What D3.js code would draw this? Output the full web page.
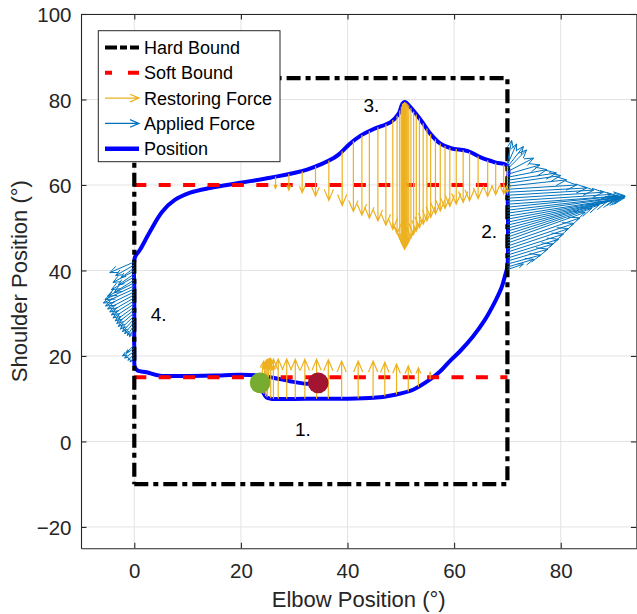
<!DOCTYPE html>
<html><head><meta charset="utf-8">
<script src="https://cdn.jsdelivr.net/npm/d3@7"></script>
<style>
body{margin:0;background:#fff}
svg{display:block}
text{font-family:"Liberation Sans",Arial,Helvetica,sans-serif}
</style>
</head><body>
<svg id="c" width="637" height="614"></svg>
<script>
// ---------- data ----------
const xTicks = [0, 20, 40, 60, 80];
const yTicks = [-20, 0, 20, 40, 60, 80, 100];
const xLabel = "Elbow Position (°)";
const yLabel = "Shoulder Position (°)";
const legendLabels = ["Hard Bound", "Soft Bound", "Restoring Force", "Applied Force", "Position"];

const hardBoundX = [0, 70, 70, 0, 0];
const hardBoundY = [-10, -10, 85, 85, -10];
const softBoundX = [0, 70];
const softBoundLevels = [60, 15];

const posX = [23.6,24.2,24.8,25.6,32.3,38.6,44.9,49.2,52.3,55.5,57.4,59.2,61.1,63.5,65.8,67.8,68.9,69.6,70.0,70.1,70.1,70.0,70.0,
  67.7,65.1,62.6,59.4,57.5,55.6,53.8,51.5,50.8,50.3,49.6,48.1,44.9,42.4,40.4,38.6,37.4,32.4,25.5,19.8,14.2,10.5,7.6,5.2,2.9,1.1,0.1,
  0,0,0,0.1,0.6,2.3,4.8,8.6,14.8,19.9,23.6,26.1,29.2,32.3,34.5];
const posY = [13.7,11.4,10.3,10.0,10.0,10.0,10.2,11.0,12.1,14.5,16.4,18.8,21.1,24.5,28.5,33.0,36.0,39.0,41.0,47,54,60,64.5,
  65.3,66.4,67.9,68.6,69.6,71.9,75.1,78.6,79.4,79.0,76.7,74.7,73.1,71.5,69.6,67.4,66.3,63.6,61.7,60.5,59.3,58.2,56.5,53.7,49.0,44.9,43.0,
  36,28,20,17.4,16.6,16.2,15.4,15.3,15.4,15.6,15.4,14.9,14.1,13.5,13.7];

const startPoint = [23.6, 13.7];
const endPoint = [34.5, 13.7];

// restoring force (base x, base y, u, v)
const resX = [26.5,29.0,31.5,34.0,36.5,39.0,41.1,42.7,44.1,45.7,47.2,48.5,49.3,49.8,50.1,50.3,50.5,50.7,50.9,51.1,51.3,51.5,51.9,52.4,52.9,53.5,54.2,54.9,55.6,56.5,57.4,58.3,59.2,60.4,61.7,62.9,64.5,66.3,67.8,69.3,70.0,
  23.7,23.9,24.1,24.3,24.6,24.9,25.6,26.1,27.0,28.6,30.2,32.0,34.2,36.4,38.9,42.0,44.8,47.0,49.2,51.4,53.3,55.5];
const resY = [62.0,62.6,63.2,64.4,65.7,67.9,70.3,71.7,72.6,73.5,74.2,75.2,76.2,77.4,78.3,79.0,79.2,79.4,79.3,79.1,78.9,78.6,78.0,77.2,76.5,75.6,74.4,73.2,71.9,70.7,69.7,69.1,68.7,68.4,68.1,67.7,66.7,65.8,65.2,64.8,64.5,
  13.5,12.6,11.8,11.1,10.6,10.3,10.1,10.0,10.0,10.0,10.0,10.0,10.0,10.0,10.0,10.1,10.2,10.6,11.0,11.7,12.8,14.5];
const resU = [0,0,0,0,0,0,0,0,0,0,0,0,0,0,0,0,0,0,0,0,0,0,0,0,0,0,0,0,0,0,0,0,0,0,0,0,0,0,0,0,0,
  0.6,0.9,0.9,0.9,0.7,0.5,0,0,0,0,0,0,0,0,0,0,0,0,0,0,0,0];
const resV = [-2.8,-3.8,-5.0,-7.0,-9.3,-12.7,-16.5,-18.8,-20.4,-21.9,-23.6,-25.6,-27.6,-29.8,-31.7,-33.0,-33.7,-34.4,-34.0,-33.3,-32.6,-31.8,-30.4,-28.8,-27.3,-25.6,-23.6,-21.6,-19.5,-17.5,-15.8,-14.6,-13.7,-12.9,-12.2,-11.4,-9.9,-8.5,-7.5,-6.9,-6.4,
  5.3,6.4,7.3,8.1,8.7,9.0,9.3,9.3,9.3,9.3,9.2,9.2,9.2,9.1,8.8,8.7,8.6,7.9,7.1,6.0,4.4,1.7];

// applied force (base x, base y, u, v)
const appX = [70,70,70,70,70,70,70,70,70,70,70,70,70,70,70,70,70,70,70,70,70,70,70,70,70,70,70,70,70,70,70,70,70,70,70,70,70,70,
  0,0,0,0,0,0,0,0,0,0,0,0,0,0,0,0,0,0,0,0,0,0,0,0,0,0,0,0,0];
const appY = [40.2,40.8,41.5,42.2,42.9,43.6,44.3,45.0,45.7,46.4,47.1,47.8,48.5,49.2,49.9,50.6,51.3,52.0,52.7,53.4,54.1,54.8,55.5,56.2,56.9,57.6,58.3,59.0,59.7,60.4,61.1,61.8,62.5,63.1,63.7,64.2,64.7,65.2,
  42.0,41.3,40.6,39.9,39.2,38.5,37.8,37.1,36.4,35.7,35.0,34.3,33.6,32.9,32.2,31.5,30.8,30.1,29.4,28.7,28.0,27.3,26.6,22.5,21.8,21.1,20.4,19.7];
const appU = [3.0,4.9,6.2,7.6,8.6,9.6,10.5,11.5,12.5,13.6,14.6,15.8,17.2,18.6,19.8,21.0,21.5,20.5,22.0,21.2,22.1,20.8,22.0,19.5,18.0,16.2,14.9,13.0,11.1,10.0,9.2,7.4,6.1,4.9,3.6,3.0,1.7,0.8,
  -4.6,-3.5,-2.5,-4.0,-3.0,-4.3,-3.8,-5.0,-5.5,-5.8,-5.4,-5.0,-4.6,-4.3,-4.0,-3.6,-3.3,-3.0,-2.6,-2.2,-1.8,-1.3,-0.9,-1.5,-2.2,-1.8,-1.2,-0.8];
const appV = [1.3,1.8,2.1,2.8,3.3,3.7,4.2,4.8,5.3,5.9,6.5,6.7,6.8,6.8,6.5,6.2,5.6,4.7,4.3,3.7,3.2,2.6,2.0,1.6,1.4,1.2,1.0,1.0,1.5,1.8,1.7,1.8,2.2,3.2,4.5,4.8,4.9,5.2,
  -2.5,-2.5,-2.3,-2.7,-2.6,-3.0,-3.0,-3.1,-3.2,-3.3,-3.3,-3.3,-3.3,-3.3,-3.3,-3.3,-3.2,-3.2,-3.1,-3.0,-2.8,-2.5,-2.1,-1.7,-1.8,-1.6,-1.4,-1.1];

const annoText = ["1.", "2.", "3.", "4."];
const annoX = [30.15, 65.1, 43.0, 3.08];
const annoY = [1.24, 47.5, 77.1, 28.1];

// ---------- drawing ----------
const svg = d3.select("#c");
const x = d3.scaleLinear().domain([-10, 94.2]).range([81, 636.4]);
const y = d3.scaleLinear().domain([-25, 100]).range([548.3, 14]);
const x0 = x.range()[0], x1 = x.range()[1], y0 = y.range()[1], y1 = y.range()[0];

const C = {axis: "#262626", grid: "#e3e3e3", orange: "#EDB120", lblue: "#0072BD", pos: "#0000FF",
           red: "#FF0000", green: "#77AC30", dred: "#A2142F"};

svg.append("rect").attr("width", 637).attr("height", 614).attr("fill", "#fff");

// grid
const grid = svg.append("g");
grid.selectAll("line.gx").data(xTicks).join("line")
  .attr("x1", d => x(d)).attr("x2", d => x(d)).attr("y1", y0).attr("y2", y1)
  .attr("stroke", C.grid).attr("stroke-width", 1);
grid.selectAll("line.gy").data(yTicks).join("line")
  .attr("class", "gy")
  .attr("y1", d => y(d)).attr("y2", d => y(d)).attr("x1", x0).attr("x2", x1)
  .attr("stroke", C.grid).attr("stroke-width", 1);

// position line
const posPts = posX.map((v, i) => [v, posY[i]]);
const posLine = d3.line().x(d => x(d[0])).y(d => y(d[1])).curve(d3.curveCatmullRom.alpha(0.5));
svg.append("path").attr("d", posLine(posPts)).attr("fill", "none")
  .attr("stroke", C.pos).attr("stroke-width", 4).attr("stroke-linejoin", "round");

// soft bound
svg.selectAll("line.soft").data(softBoundLevels).join("line")
  .attr("x1", x(softBoundX[0])).attr("x2", x(softBoundX[1]))
  .attr("y1", d => y(d)).attr("y2", d => y(d))
  .attr("stroke", C.red).attr("stroke-width", 4).attr("stroke-dasharray", "12,12.4");

// hard bound
const hb = hardBoundX.map((v, i) => [v, hardBoundY[i]]);
svg.append("path").attr("d", d3.line().x(d => x(d[0])).y(d => y(d[1]))(hb))
  .attr("fill", "none").attr("stroke", "#000").attr("stroke-width", 4.2)
  .attr("stroke-dasharray", "14,5,5,5").attr("stroke-linejoin", "miter");

// arrows
function arrowPath(px0, py0, px1, py1, hmax) {
  const dx = px1 - px0, dy = py1 - py0, L = Math.hypot(dx, dy);
  if (L < 0.5) return "";
  const h = Math.min(0.3 * L, hmax), w = h * 0.42;
  const ux = dx / L, uy = dy / L;
  const bx = px1 - ux * h, by = py1 - uy * h;
  return `M${px0},${py0}L${px1},${py1}M${bx - uy * w},${by + ux * w}L${px1},${py1}L${bx + uy * w},${by - ux * w}`;
}
const resIdx = d3.range(resX.length);
svg.append("g").selectAll("path").data(resIdx).join("path")
  .attr("d", i => arrowPath(x(resX[i]), y(resY[i]), x(resX[i] + resU[i]), y(resY[i] + resV[i]), 11))
  .attr("fill", "none").attr("stroke", C.orange).attr("stroke-width", 1.2);

const appIdx = d3.range(appX.length);
svg.append("g").selectAll("path").data(appIdx).join("path")
  .attr("d", i => arrowPath(x(appX[i]), y(appY[i]), x(appX[i] + appU[i]), y(appY[i] + appV[i]), 11))
  .attr("fill", "none").attr("stroke", C.lblue).attr("stroke-width", 1);

// start / end markers
svg.append("circle").attr("cx", x(startPoint[0])).attr("cy", y(startPoint[1])).attr("r", 10.3).attr("fill", C.green);
svg.append("circle").attr("cx", x(endPoint[0])).attr("cy", y(endPoint[1])).attr("r", 10.3).attr("fill", C.dred);

// annotations
svg.selectAll("text.anno").data(annoText).join("text")
  .attr("x", (d, i) => x(annoX[i])).attr("y", (d, i) => y(annoY[i]))
  .attr("font-size", 19).attr("fill", "#000").text(d => d);

// axes
const fs = 20.5;
const gB = svg.append("g").attr("transform", `translate(0,${y1})`)
  .call(d3.axisBottom(x).tickValues(xTicks).tickSize(-5.5).tickSizeOuter(0).tickPadding(15));
const gL = svg.append("g").attr("transform", `translate(${x0},0)`)
  .call(d3.axisLeft(y).tickValues(yTicks).tickSize(-5.5).tickSizeOuter(0).tickPadding(9.5));
const gT = svg.append("g").attr("transform", `translate(0,${y0})`)
  .call(d3.axisTop(x).tickValues(xTicks).tickSize(-5.5).tickSizeOuter(0).tickFormat(""));
const gR = svg.append("g").attr("transform", `translate(${x1},0)`)
  .call(d3.axisRight(y).tickValues(yTicks).tickSize(-5.5).tickSizeOuter(0).tickFormat(""));
[gB, gL, gT, gR].forEach(g => {
  g.select(".domain").attr("stroke", C.axis).attr("stroke-width", 1.1);
  g.selectAll(".tick line").attr("stroke", C.axis).attr("stroke-width", 1.1);
  g.selectAll(".tick text").attr("fill", C.axis).attr("font-size", fs)
    .attr("font-family", '"Liberation Sans",Arial,sans-serif');
});
gL.selectAll(".tick text").attr("dy", "0.38em");

// axis labels
svg.append("text").attr("x", (x0 + x1) / 2).attr("y", 607).attr("text-anchor", "middle")
  .attr("font-size", 22).attr("fill", C.axis).text(xLabel);
svg.append("text").attr("transform", `translate(26.5,${(y0 + y1) / 2}) rotate(-90)`)
  .attr("text-anchor", "middle").attr("font-size", 22).attr("fill", C.axis).text(yLabel);

// legend
const lg = svg.append("g");
lg.append("rect").attr("x", 98.3).attr("y", 30.7).attr("width", 181.7).attr("height", 131)
  .attr("fill", "#fff").attr("stroke", C.axis).attr("stroke-width", 1);
const lx0 = 105, lx1 = 139, ly0 = 47.5, ldy = 25.3;
legendLabels.forEach((lab, i) => {
  const yy = ly0 + i * ldy;
  if (i === 0) lg.append("line").attr("x1", lx0).attr("x2", lx1).attr("y1", yy).attr("y2", yy)
    .attr("stroke", "#000").attr("stroke-width", 4.2).attr("stroke-dasharray", "12,3,7,3");
  if (i === 1) lg.append("line").attr("x1", lx0).attr("x2", lx1).attr("y1", yy).attr("y2", yy)
    .attr("stroke", C.red).attr("stroke-width", 4).attr("stroke-dasharray", "7,16,11");
  if (i === 2 || i === 3) lg.append("path").attr("d", arrowPath(lx0, yy, lx1, yy, 9))
    .attr("fill", "none").attr("stroke", i === 2 ? C.orange : C.lblue).attr("stroke-width", 1.2);
  if (i === 4) lg.append("line").attr("x1", lx0).attr("x2", lx1).attr("y1", yy).attr("y2", yy)
    .attr("stroke", C.pos).attr("stroke-width", 4.5);
  lg.append("text").attr("x", 144).attr("y", yy + 6.5).attr("font-size", 18).attr("fill", "#000").text(lab);
});
</script>
</body></html>
